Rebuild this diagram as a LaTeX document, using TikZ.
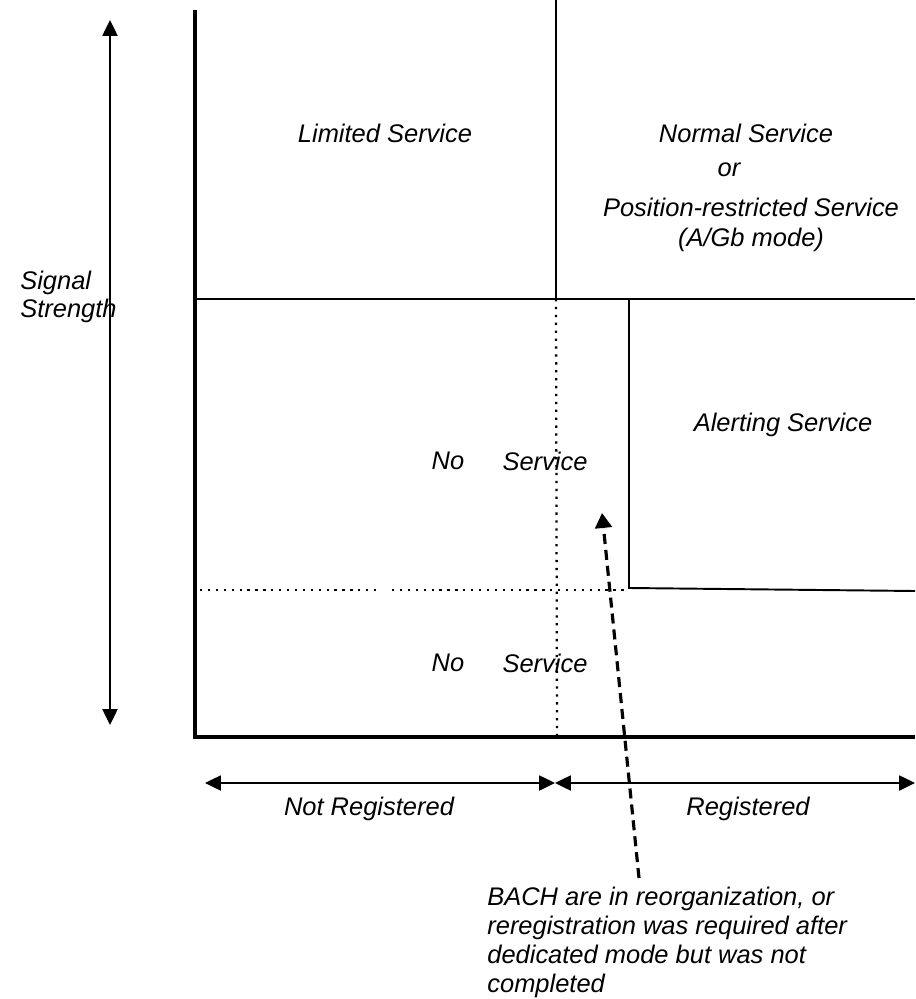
\documentclass[tikz,border=0pt]{standalone}
\usepackage{fontspec}
\setmainfont{Liberation Sans}
\usetikzlibrary{arrows.meta}
\tikzset{
  lbl/.style={font=\itshape\fontsize{14.5}{16.4}\selectfont, inner sep=0pt},
  axis/.style={line width=2.3pt},
  rule/.style={line width=1.1pt},
  dots/.style={line width=1.3pt, dash pattern=on 1.3pt off 3.2pt},
  twoway/.style={line width=1.2pt, {Triangle[length=9pt,width=8.5pt]}-{Triangle[length=9pt,width=8.5pt]}},
  hint/.style={line width=1.8pt, dash pattern=on 5.7pt off 3.4pt, -{Triangle[length=8.5pt,width=9.5pt]}}
}
\begin{document}
\begin{tikzpicture}[x=0.02cm, y=-0.02cm]
\useasboundingbox (0,0) rectangle (915,999);

% corner points of the regions
\coordinate (top) at (195,10);
\coordinate (origin) at (195,737);
\coordinate (end) at (915,737);
\coordinate (midtop) at (556,0);
\coordinate (midleft) at (195,299);
\coordinate (midcut) at (556,299);
\coordinate (midright) at (915,299);
\coordinate (alerttop) at (629,299);
\coordinate (alertcorner) at (629,588);
\coordinate (alertright) at (915,591);
\coordinate (dotleft) at (200,590);
\coordinate (dotgapa) at (378,590);
\coordinate (dotgapb) at (392,590);
\coordinate (dotright) at (625,590);
\coordinate (dotbottom) at (557,737);

\draw[axis] (top) -- (origin) -- (end);
\draw[rule] (midtop) -- (midcut);
\draw[rule] (midleft) -- (midright);
\draw[rule] (alerttop) -- (alertcorner) -- (alertright);
\draw[dots] (midcut) -- (dotbottom);
\draw[dots] (dotleft) -- (dotgapa);
\draw[dots] (dotgapb) -- (dotright);

% signal strength
\coordinate (sighigh) at (110,20);
\coordinate (siglow) at (110,725);
\draw[twoway] (siglow) -- (sighigh);
\node[lbl, anchor=west, align=left] (signal) at (20,297) {Signal\\Strength};

% registration
\coordinate (regleft) at (205,783);
\coordinate (regmid) at (555,783);
\coordinate (regright) at (915,783);
\draw[twoway] (regleft) -- (regmid);
\draw[twoway] (regmid) -- (regright);
\node[lbl] (notreg) at (369,809) {Not Registered};
\node[lbl] (reg) at (748,809) {Registered};

% regions
\node[lbl] (limited) at (385,133) {Limited Service};
\node[lbl] (normal) at (746,133) {Normal Service};
\node[lbl] (or) at (729,170) {or};
\node[lbl] (position) at (751,207) {Position-restricted Service};
\node[lbl] (mode) at (751,240) {(A/Gb mode)};
\node[lbl] (alerting) at (783,425) {Alerting Service};
\node[lbl] (noa) at (448,461) {No};
\node[lbl] (servicea) at (545,461) {Service};
\node[lbl] (nob) at (448,663) {No};
\node[lbl] (serviceb) at (545,663) {Service};

% note
\node[lbl, anchor=north west, align=left] (bach) at (487,887)
  {BACH are in reorganization, or\\reregistration was required after\\dedicated mode but was not\\completed};
\coordinate (hintstart) at (639,878);
\coordinate (hintend) at (602,513);
\draw[hint] (hintstart) -- (hintend);
\end{tikzpicture}
\end{document}
